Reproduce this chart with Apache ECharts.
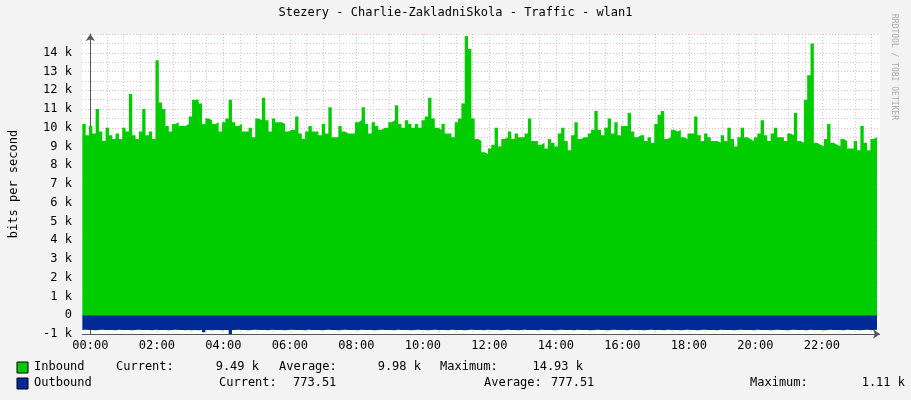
<!DOCTYPE html>
<html><head><meta charset="utf-8">
<script src="https://cdn.jsdelivr.net/npm/echarts@6/dist/echarts.min.js"></script>
<style>html,body{margin:0;padding:0;background:#F3F3F3}#c{width:911px;height:400px}</style>
</head><body><div id="c"></div>
<script>
// 6-minute samples starting at -0.24 h (23:45:36 prev day)
const startHour = -0.24, stepHour = 0.1;
const inbound = [9.8,10.2,9.6,10.1,9.7,11.0,9.8,9.3,10.0,9.6,9.4,9.7,9.4,10.0,9.8,11.8,9.6,9.4,9.8,11.0,
9.6,9.8,9.4,13.6,11.35,11.0,10.1,9.8,10.2,10.3,10.1,10.1,10.2,10.6,11.5,11.5,11.3,10.2,10.5,10.4,
10.2,10.3,9.8,10.3,10.5,11.5,10.3,10.1,10.2,9.8,9.8,10.0,9.5,10.5,10.4,11.6,10.4,9.8,10.5,10.3,
10.3,10.2,9.8,9.9,9.9,10.6,9.7,9.4,9.8,10.1,9.8,9.8,9.6,10.2,9.7,11.1,9.5,9.5,10.1,9.8,
9.7,9.7,9.7,10.3,10.4,11.1,10.2,9.7,10.3,10.1,9.9,10.0,10.0,10.3,10.4,11.2,10.2,10.0,10.4,10.2,
10.0,10.2,10.0,10.4,10.6,11.6,10.5,10.0,9.9,10.2,9.7,9.7,9.5,10.3,10.5,11.3,14.9,14.2,10.5,9.4,
9.3,8.7,
8.6,8.9,9.1,10.0,9.0,9.4,9.5,9.8,9.4,9.7,9.5,9.5,9.7,10.5,9.3,9.3,9.1,9.2,8.9,9.4,
9.2,9.0,9.7,10.0,9.3,8.8,9.6,10.3,9.4,9.5,9.5,9.7,9.9,10.9,9.9,9.6,10.0,10.5,9.7,10.3,
9.6,10.1,10.1,10.8,9.8,9.5,9.6,9.6,9.3,9.5,9.2,10.2,10.7,10.9,9.4,9.5,9.9,9.8,9.9,9.5,
9.4,9.7,9.7,10.6,9.6,9.3,9.7,9.5,9.3,9.3,9.2,9.6,9.3,10.0,9.4,9.0,9.5,10.0,9.5,9.4,
9.3,9.5,9.7,10.4,9.6,9.3,9.7,10.0,9.5,9.5,9.3,9.7,9.6,10.8,9.3,9.2,11.5,12.8,14.5,9.2,
9.1,9.0,9.4,10.2,9.2,9.1,9.0,9.4,9.3,8.9,8.9,9.3,8.8,10.1,9.2,8.8,9.4,9.5];
const outbound = [0.78,0.77,0.79,0.78,0.80,0.78,0.77,0.79,0.78,0.78,0.80,0.77,0.78,0.79,0.78,0.80,0.78,0.77,0.79,0.78,
0.78,0.80,0.77,0.79,0.78,0.78,0.80,0.78,0.77,0.79,0.78,0.80,0.79,0.80,0.78,0.80,0.79,0.90,0.78,0.80,
0.79,0.78,0.80,0.78,0.79,1.06,0.78,0.77,0.79,0.78,0.80,0.78,0.77,0.79,0.78,0.78,0.80,0.77,0.78,0.79,
0.78,0.80,0.78,0.77,0.79,0.78,0.78,0.80,0.77,0.79,0.78,0.78,0.80,0.78,0.77,0.79,0.78,0.80,0.78,0.77,
0.79,0.78,0.78,0.80,0.77,0.78,0.79,0.78,0.80,0.78,0.77,0.79,0.78,0.78,0.80,0.77,0.79,0.78,0.78,0.80,
0.78,0.77,0.79,0.78,0.80,0.78,0.77,0.79,0.78,0.78,0.80,0.77,0.78,0.79,0.78,0.80,0.78,0.77,0.79,0.78,
0.78,0.80,0.77,0.79,0.78,0.78,0.80,0.78,0.77,0.79,0.78,0.80,0.78,0.77,0.79,0.78,0.78,0.80,0.77,0.78,
0.79,0.78,0.80,0.78,0.77,0.79,0.78,0.78,0.80,0.77,0.79,0.78,0.78,0.80,0.78,0.77,0.79,0.78,0.80,0.78,
0.77,0.79,0.78,0.78,0.80,0.77,0.78,0.79,0.78,0.80,0.78,0.77,0.79,0.78,0.78,0.80,0.77,0.79,0.78,0.78,
0.80,0.78,0.77,0.79,0.78,0.80,0.78,0.77,0.79,0.78,0.78,0.80,0.77,0.78,0.79,0.78,0.80,0.78,0.77,0.79,
0.78,0.78,0.80,0.77,0.79,0.78,0.78,0.80,0.78,0.77,0.79,0.78,0.80,0.78,0.77,0.79,0.78,0.78,0.80,0.77,
0.78,0.79,0.78,0.80,0.78,0.77,0.79,0.78,0.78,0.80,0.77,0.79,0.78,0.78,0.80,0.78,0.77,0.79,0.78,0.77];
const xTicks = ['00:00','02:00','04:00','06:00','08:00','10:00','12:00','14:00','16:00','18:00','20:00','22:00'];
const title = 'Stezery - Charlie-ZakladniSkola - Traffic - wlan1';
const legendRow1 = [['Inbound',34],['Current:',116],['9.49 k',259,'right'],['Average:',279],['9.98 k',421,'right'],['Maximum:',440],['14.93 k',583,'right']];
const legendRow2 = [['Outbound',34],['Current:',219],['773.51',293],['Average:',484],['777.51',551],['Maximum:',750],['1.11 k',905,'right']];

const F = 'DejaVu Sans Mono';
const inData = inbound.map((v,i)=>[startHour+i*stepHour, v*1000]);
const outData = outbound.map((v,i)=>[startHour+i*stepHour, -v*1000]);
const N='rgba(0,0,0,0)', R='rgba(230,120,120,0.55)', G='rgba(170,170,170,0.6)';
const graphic = [
 {type:'text',left:'center',top:7,style:{text:title,font:'12px '+F,fill:'#000'}},
 {type:'text',x:898,y:14,rotation:-Math.PI/2,style:{text:'RRDTOOL / TOBI OETIKER',font:'8px '+F,fill:'#aaa'}},
 {type:'rect',shape:{x:17,y:362,width:11,height:11},style:{fill:'#00CC00',stroke:'#000',lineWidth:1}},
 {type:'rect',shape:{x:17,y:378,width:11,height:11},style:{fill:'#002A97',stroke:'#000',lineWidth:1}}
];
legendRow1.forEach(t=>graphic.push({type:'text',x:t[1],y:361,style:{text:t[0],font:'12px '+F,fill:'#000',align:t[2]||'left'}}));
legendRow2.forEach(t=>graphic.push({type:'text',x:t[1],y:377,style:{text:t[0],font:'12px '+F,fill:'#000',align:t[2]||'left'}}));
const chart = echarts.init(document.getElementById('c'));
chart.setOption({
 animation:false, backgroundColor:'#F3F3F3',
 grid:{left:80,top:34,width:800,height:300,backgroundColor:'#fff',show:true,borderWidth:0},
 graphic,
 xAxis:{type:'value',min:-0.25,max:23.75,interval:0.25,
  axisLine:{show:false},axisTick:{show:false},
  axisLabel:{font:'12px '+F,color:'#000',fontFamily:F,fontSize:12,margin:6,showMinLabel:true,
   formatter:v=>{const h=Math.round(v*100)/100; return (h>=0 && h%2===0)? xTicks[h/2]:'';}},
  splitLine:{show:true,lineStyle:{type:[1,2],width:1,color:[N,R,N,G,N,G,N,G]}}},
 yAxis:{type:'value',min:-1000,max:15000,interval:500,name:'bits per second',nameLocation:'middle',nameGap:62,
  nameTextStyle:{fontFamily:F,fontSize:12,color:'#000'},
  axisLine:{show:true,lineStyle:{color:'#555'},symbol:['none','arrow'],symbolSize:[7,7]},axisTick:{show:false},
  axisLabel:{fontFamily:F,fontSize:12,color:'#000',margin:10,
   formatter:v=>v%1000!==0||v===15000?'':(v===0?'0':(v/1000)+' k')},
  splitLine:{show:true,lineStyle:{type:[1,2],width:1,color:[R,G]}}},
 series:[
  {type:'line',data:inData,step:'start',symbol:'none',lineStyle:{width:0},areaStyle:{color:'#00CC00',opacity:1,origin:0},z:3},
  {type:'line',data:outData,step:'start',symbol:'none',lineStyle:{width:0},areaStyle:{color:'#002A97',opacity:1,origin:0},z:3,
   markLine:{silent:true,symbol:['none','arrow'],symbolSize:7,label:{show:false},lineStyle:{color:'#555',type:'solid',width:1},
    data:[[{coord:[-0.25,-1000]},{coord:[23.75,-1000]}]]}}
 ]
});
</script></body></html>
